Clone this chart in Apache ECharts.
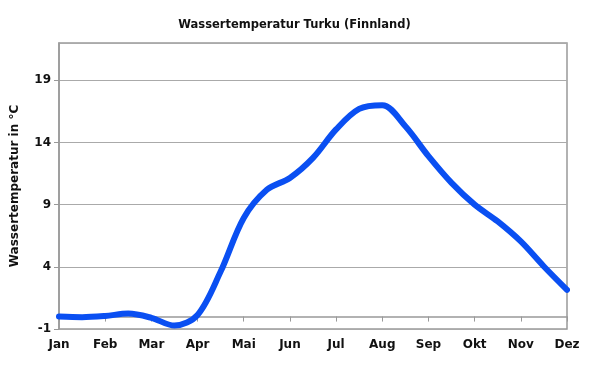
<!DOCTYPE html>
<html>
<head>
<meta charset="utf-8">
<script src="https://cdn.jsdelivr.net/npm/echarts@6/dist/echarts.min.js"></script>
<style>
html,body{margin:0;padding:0;background:#fff;}
#chart{width:589px;height:370px;}
</style>
</head>
<body>
<div id="chart"></div>
<script>
var months = ['Jan','Feb','Mar','Apr','Mai','Jun','Jul','Aug','Sep','Okt','Nov','Dez'];
// positions in month units (0 = Jan, 11 = Dez), sampled every half month
var monthPos = [0,0.5,1,1.5,2,2.5,3,3.5,4,4.5,5,5.5,6,6.5,7,7.5,8,8.5,9,9.5,10,10.5,11];
var temps = [0.0,-0.05,0.05,0.24,-0.1,-0.72,0.13,3.62,7.93,10.2,11.15,12.76,15.05,16.7,17.0,15.3,12.9,10.75,9.0,7.65,6.04,4.03,2.15];
var yTicks = [-1,4,9,14,19];

var chart = echarts.init(document.getElementById('chart'), null, {renderer:'canvas'});
var font = 'DejaVu Sans, Verdana, sans-serif';
chart.setOption({
  animation:false,
  backgroundColor:'#fff',
  title:{
    text:'Wassertemperatur Turku (Finnland)',
    left:'center', top:14,
    textStyle:{fontFamily:font,fontWeight:'bold',fontSize:11.5,color:'#111'}
  },
  grid:{left:59,right:22,top:43,bottom:41,show:true,borderColor:'#999',borderWidth:1.5,backgroundColor:'transparent'},
  xAxis:{
    type:'value', min:0, max:months.length-1, interval:1,
    axisLine:{show:true,lineStyle:{color:'#999',width:1.5}},
    axisTick:{show:true,length:5,lineStyle:{color:'#999',width:1}},
    splitLine:{show:false},
    axisLabel:{
      margin:10,
      fontFamily:font,fontWeight:'bold',fontSize:12,color:'#111',
      formatter:function(v){return months[Math.round(v)]||'';}
    }
  },
  yAxis:{
    type:'value', min:yTicks[0], max:22, interval:5,
    name:'Wassertemperatur in °C', nameLocation:'middle', nameGap:38,
    nameTextStyle:{fontFamily:font,fontWeight:'bold',fontSize:12,color:'#111'},
    axisLine:{show:true,lineStyle:{color:'#999',width:1.5}},
    axisTick:{show:true,length:5,lineStyle:{color:'#999',width:1}},
    splitLine:{show:true,lineStyle:{color:'#aaa',width:1}},
    axisLabel:{
      margin:8,showMaxLabel:false,
      fontFamily:font,fontWeight:'bold',fontSize:12,color:'#111',
      formatter:function(v){return yTicks.indexOf(v)>=0?String(v):'';}
    }
  },
  series:[{
    type:'line', smooth:0.33, symbol:'none',
    data:monthPos.map(function(x,i){return [x,temps[i]];}),
    lineStyle:{color:'#0a4ff2',width:6,cap:'round'}
  }]
});
</script>
</body>
</html>
